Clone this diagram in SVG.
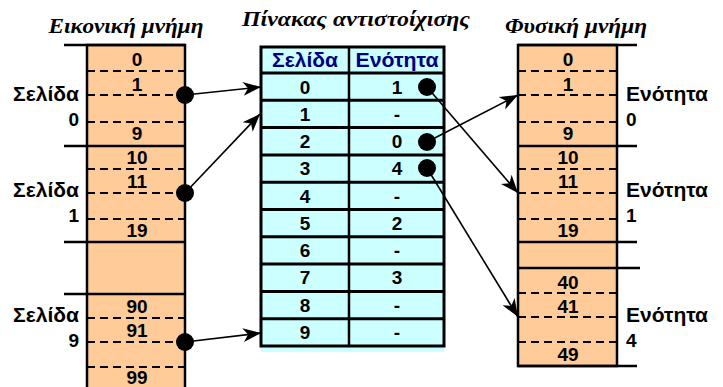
<svg xmlns="http://www.w3.org/2000/svg" width="723" height="387" viewBox="0 0 723 387">
<style>
.t{font-family:"Liberation Sans",Arial,sans-serif;font-weight:bold;font-size:19px;fill:#000}
.w{font-size:20px}
.c{text-anchor:middle}
.r{text-anchor:end}
.h{font-family:"Liberation Sans",Arial,sans-serif;font-weight:bold;font-size:20px;fill:#000080;text-anchor:middle}
.title{font-family:"Liberation Serif","Times New Roman",serif;font-weight:bold;font-style:italic;font-size:22px;fill:#000;text-anchor:middle}
.sol{stroke:#000;stroke-width:2.5;fill:none}
.dash{stroke:#000;stroke-width:2;stroke-dasharray:8 5;fill:none}
.mem{fill:#FFCC99;stroke:#000;stroke-width:2.5}
.tab{fill:#CCFFFF;stroke:#000;stroke-width:3}
.arr{stroke:#000;stroke-width:1.6;fill:none;marker-end:url(#ah)}
</style>
<defs>
<marker id="ah" markerUnits="userSpaceOnUse" markerWidth="20" markerHeight="16" refX="18" refY="8" orient="auto">
<path d="M0,1 L18,8 L0,15 L5,8 z" fill="#000"/>
</marker>
</defs>

<text class="title" x="126" y="33" textLength="155" lengthAdjust="spacingAndGlyphs">Εικονική μνήμη</text>
<text class="title" x="356" y="26" textLength="228" lengthAdjust="spacingAndGlyphs">Πίνακας αντιστοίχισης</text>
<text class="title" x="576" y="33" textLength="142" lengthAdjust="spacingAndGlyphs">Φυσική μνήμη</text>

<g id="virtual">
<rect class="mem" x="87" y="45" width="98" height="360"/>
<line class="sol" x1="64" y1="45" x2="185" y2="45"/>
<line class="dash" x1="87" y1="71" x2="185" y2="71"/>
<line class="dash" x1="87" y1="95" x2="185" y2="95"/>
<line class="dash" x1="87" y1="122" x2="185" y2="122"/>
<line class="sol" x1="64" y1="146" x2="185" y2="146"/>
<line class="dash" x1="87" y1="169" x2="185" y2="169"/>
<line class="dash" x1="87" y1="193" x2="185" y2="193"/>
<line class="dash" x1="87" y1="219" x2="185" y2="219"/>
<line class="sol" x1="64" y1="242" x2="185" y2="242"/>
<line class="sol" x1="64" y1="294" x2="185" y2="294"/>
<line class="dash" x1="87" y1="318" x2="185" y2="318"/>
<line class="dash" x1="87" y1="342" x2="185" y2="342"/>
<line class="dash" x1="87" y1="367" x2="185" y2="367"/>
<text class="t c" x="137" y="66">0</text>
<text class="t c" x="137" y="91">1</text>
<text class="t c" x="137" y="140">9</text>
<text class="t c" x="137" y="164">10</text>
<text class="t c" x="137" y="188">11</text>
<text class="t c" x="137" y="237">19</text>
<text class="t c" x="137" y="313">90</text>
<text class="t c" x="137" y="337">91</text>
<text class="t c" x="137" y="384">99</text>
<text class="t w r" x="79" y="101" textLength="66" lengthAdjust="spacingAndGlyphs">Σελίδα</text>
<text class="t r" x="79" y="126">0</text>
<text class="t w r" x="79" y="197" textLength="66" lengthAdjust="spacingAndGlyphs">Σελίδα</text>
<text class="t r" x="79" y="222">1</text>
<text class="t w r" x="79" y="322" textLength="66" lengthAdjust="spacingAndGlyphs">Σελίδα</text>
<text class="t r" x="79" y="347">9</text>
</g>

<g id="table">
<rect x="261" y="47" width="183" height="305" fill="#CCFFFF"/>
<rect class="tab" x="261" y="47" width="183" height="299"/>
<line class="sol" x1="349" y1="47" x2="349" y2="346" stroke-width="3"/>
<g stroke="#000" stroke-width="3">
<line x1="261" y1="73" x2="444" y2="73"/>
<line x1="261" y1="100.3" x2="444" y2="100.3"/>
<line x1="261" y1="127.6" x2="444" y2="127.6"/>
<line x1="261" y1="154.9" x2="444" y2="154.9"/>
<line x1="261" y1="182.2" x2="444" y2="182.2"/>
<line x1="261" y1="209.5" x2="444" y2="209.5"/>
<line x1="261" y1="236.8" x2="444" y2="236.8"/>
<line x1="261" y1="264.1" x2="444" y2="264.1"/>
<line x1="261" y1="291.4" x2="444" y2="291.4"/>
<line x1="261" y1="318.7" x2="444" y2="318.7"/>
</g>
<text class="h" x="305" y="67" textLength="66" lengthAdjust="spacingAndGlyphs">Σελίδα</text>
<text class="h" x="397" y="67" textLength="83" lengthAdjust="spacingAndGlyphs">Ενότητα</text>
<text class="t c" x="305" y="94">0</text><text class="t c" x="397" y="94">1</text>
<text class="t c" x="305" y="121">1</text><text class="t c" x="397" y="121">-</text>
<text class="t c" x="305" y="148">2</text><text class="t c" x="397" y="148">0</text>
<text class="t c" x="305" y="175">3</text><text class="t c" x="397" y="175">4</text>
<text class="t c" x="305" y="203">4</text><text class="t c" x="397" y="203">-</text>
<text class="t c" x="305" y="230">5</text><text class="t c" x="397" y="230">2</text>
<text class="t c" x="305" y="257">6</text><text class="t c" x="397" y="257">-</text>
<text class="t c" x="305" y="284">7</text><text class="t c" x="397" y="284">3</text>
<text class="t c" x="305" y="312">8</text><text class="t c" x="397" y="312">-</text>
<text class="t c" x="305" y="339">9</text><text class="t c" x="397" y="339">-</text>
</g>

<g id="physical">
<rect class="mem" x="518" y="45" width="99" height="321"/>
<line class="sol" x1="518" y1="45" x2="637" y2="45"/>
<line class="dash" x1="518" y1="71" x2="617" y2="71"/>
<line class="dash" x1="518" y1="95" x2="617" y2="95"/>
<line class="dash" x1="518" y1="122" x2="617" y2="122"/>
<line class="sol" x1="518" y1="146" x2="637" y2="146"/>
<line class="dash" x1="518" y1="169" x2="617" y2="169"/>
<line class="dash" x1="518" y1="193" x2="617" y2="193"/>
<line class="dash" x1="518" y1="219" x2="617" y2="219"/>
<line class="sol" x1="518" y1="242" x2="637" y2="242"/>
<line class="sol" x1="518" y1="268" x2="640" y2="268"/>
<line class="dash" x1="518" y1="293" x2="617" y2="293"/>
<line class="dash" x1="518" y1="317" x2="617" y2="317"/>
<line class="dash" x1="518" y1="342" x2="617" y2="342"/>
<line class="sol" x1="518" y1="366" x2="637" y2="366"/>
<text class="t c" x="568" y="66">0</text>
<text class="t c" x="568" y="91">1</text>
<text class="t c" x="568" y="140">9</text>
<text class="t c" x="568" y="164">10</text>
<text class="t c" x="568" y="188">11</text>
<text class="t c" x="568" y="237">19</text>
<text class="t c" x="568" y="289">40</text>
<text class="t c" x="568" y="313">41</text>
<text class="t c" x="568" y="361">49</text>
<text class="t w" x="626" y="101" textLength="82" lengthAdjust="spacingAndGlyphs">Ενότητα</text>
<text class="t" x="626" y="126">0</text>
<text class="t w" x="626" y="197" textLength="82" lengthAdjust="spacingAndGlyphs">Ενότητα</text>
<text class="t" x="626" y="222">1</text>
<text class="t w" x="626" y="322" textLength="82" lengthAdjust="spacingAndGlyphs">Ενότητα</text>
<text class="t" x="626" y="347">4</text>
</g>

<g id="connectors">
<line class="arr" x1="185" y1="95" x2="261" y2="87"/>
<line class="arr" x1="185" y1="193" x2="260" y2="114"/>
<line class="arr" x1="185" y1="342" x2="261" y2="333"/>
<line class="arr" x1="427" y1="87" x2="518" y2="193"/>
<line class="arr" x1="427" y1="142" x2="518" y2="95"/>
<line class="arr" x1="427" y1="168" x2="518" y2="317"/>
<g fill="#000">
<circle cx="185" cy="95" r="9"/>
<circle cx="185" cy="193" r="9"/>
<circle cx="185" cy="342" r="9"/>
<circle cx="427" cy="87" r="9"/>
<circle cx="427" cy="142" r="9"/>
<circle cx="427" cy="168" r="9"/>
</g>
</g>
</svg>
